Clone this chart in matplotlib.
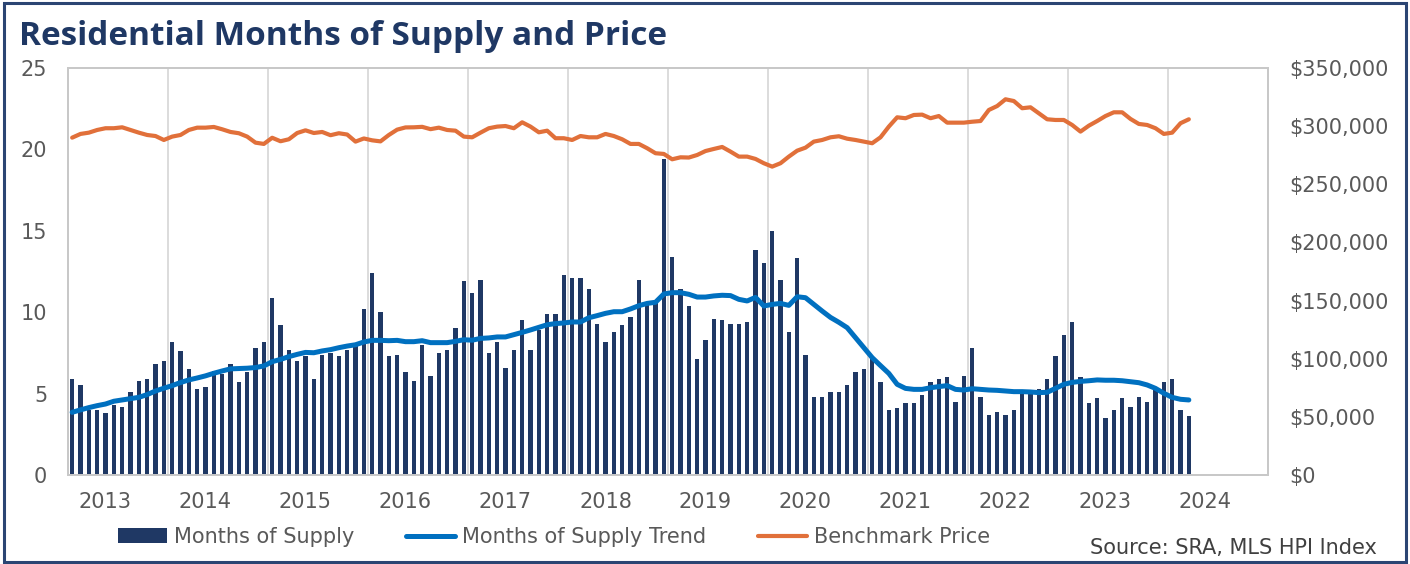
import matplotlib
matplotlib.use("Agg")
import matplotlib.pyplot as plt
from matplotlib.patches import Patch, Rectangle
from matplotlib.lines import Line2D
from matplotlib.ticker import FuncFormatter, FixedLocator

# ---------------- data (monthly, Sep 2012 .. Nov 2023) ----------------
months_of_supply = [
    5.9, 5.5, 4.0, 4.0, 3.8, 4.3, 4.2, 5.1, 5.8, 5.9, 6.8, 7.0,
    8.2, 7.6, 6.5, 5.3, 5.4, 6.4, 6.2, 6.8, 5.7, 6.3, 7.8, 8.2,
    10.9, 9.2, 7.7, 7.0, 7.3, 5.9, 7.4, 7.5, 7.3, 7.7, 8.1, 10.2,
    12.4, 10.0, 7.3, 7.4, 6.3, 5.8, 8.0, 6.1, 7.5, 7.7, 9.0, 11.9,
    11.2, 12.0, 7.5, 8.2, 6.6, 7.7, 9.5, 7.7, 8.9, 9.9, 9.9, 12.3,
    12.1, 12.1, 11.4, 9.3, 8.2, 8.8, 9.2, 9.7, 12.0, 10.6, 10.6, 19.4,
    13.4, 11.4, 10.4, 7.1, 8.3, 9.6, 9.5, 9.3, 9.3, 9.4, 13.8, 13.0,
    15.0, 12.0, 8.8, 13.3, 7.4, 4.8, 4.8, 5.1, 5.1, 5.5, 6.3, 6.5,
    7.1, 5.7, 4.0, 4.1, 4.4, 4.4, 4.9, 5.7, 5.9, 6.0, 4.5, 6.1,
    7.8, 4.8, 3.7, 3.9, 3.7, 4.0, 5.1, 5.0, 5.3, 5.9, 7.3, 8.6,
    9.4, 6.0, 4.4, 4.7, 3.5, 4.0, 4.7, 4.2, 4.8, 4.5, 5.3, 5.7,
    5.9, 4.0, 3.6,
]

supply_trend = [
    3.85, 4.00, 4.14, 4.26, 4.36, 4.53, 4.61, 4.69, 4.77, 4.94, 5.16, 5.33,
    5.49, 5.68, 5.84, 5.96, 6.09, 6.25, 6.39, 6.52, 6.54, 6.56, 6.60, 6.70,
    6.96, 7.10, 7.27, 7.41, 7.53, 7.51, 7.62, 7.70, 7.82, 7.92, 8.00, 8.17,
    8.27, 8.27, 8.25, 8.27, 8.19, 8.19, 8.25, 8.13, 8.13, 8.13, 8.21, 8.31,
    8.28, 8.39, 8.42, 8.48, 8.48, 8.62, 8.76, 8.91, 9.07, 9.23, 9.30, 9.34,
    9.40, 9.40, 9.66, 9.79, 9.93, 10.03, 10.03, 10.20, 10.40, 10.54, 10.61, 11.12,
    11.20, 11.20, 11.10, 10.93, 10.93, 11.00, 11.04, 11.02, 10.79, 10.69, 10.91, 10.38,
    10.48, 10.54, 10.42, 10.95, 10.89, 10.48, 10.07, 9.68, 9.38, 9.05, 8.44, 7.84,
    7.21, 6.72, 6.24, 5.57, 5.32, 5.26, 5.26, 5.36, 5.43, 5.49, 5.26, 5.22,
    5.30, 5.26, 5.22, 5.20, 5.16, 5.12, 5.12, 5.10, 5.06, 5.08, 5.32, 5.57,
    5.69, 5.75, 5.79, 5.84, 5.82, 5.82, 5.79, 5.73, 5.67, 5.53, 5.32, 5.02,
    4.77, 4.65, 4.61,
]

benchmark_price = [
    290100, 293300, 294400, 296700, 298200, 298200, 299000, 296700, 294400, 292400, 291500, 288100,
    291000, 292400, 296700, 298700, 298700, 299300, 297300, 295000, 293900, 291000, 285800, 284700,
    290000, 287000, 288700, 294100, 296400, 294100, 295000, 292200, 293900, 292800, 286700, 289400,
    287800, 286900, 292400, 297000, 298900, 299000, 299400, 297400, 298700, 296700, 296100, 291000,
    290400, 294400, 298200, 299600, 300100, 298200, 303300, 299600, 294700, 296100, 289600, 289600,
    288100, 291500, 290400, 290400, 293300, 291500, 288700, 284700, 284700, 281000, 276700, 276100,
    271500, 273200, 273000, 275200, 278600, 280400, 282100, 278100, 273800, 273800, 271800, 268100,
    265200, 268100, 273800, 278900, 281500, 286700, 288100, 290400, 291300, 289200, 288100, 286700,
    285300, 290400, 299600, 307600, 306800, 309600, 309900, 306800, 308700, 303000, 303000, 303000,
    303800, 304400, 313900, 317300, 323100, 321600, 315400, 316200, 311100, 305900, 305300, 305300,
    301000, 295300, 300400, 304400, 308700, 311900, 311900, 306200, 301900, 301000, 298200, 293300,
    294400, 302500, 305900,
]

year_labels = ["2013", "2014", "2015", "2016", "2017", "2018",
               "2019", "2020", "2021", "2022", "2023", "2024"]

title_text = "Residential Months of Supply and Price"
source_text = "Source: SRA, MLS HPI Index"
series_names = ["Months of Supply", "Months of Supply Trend", "Benchmark Price"]

# ---------------- style ----------------
NAVY = "#1F3864"
BLUE = "#0070C0"
ORANGE = "#E1703A"
GRID = "#D9D9D9"
TXT = "#595959"
FONT = "DejaVu Sans"

W, H = 1410, 564
fig = plt.figure(figsize=(W / 100, H / 100), dpi=100)

L, R, T, B = 68, 1268, 68, 475
ax = fig.add_axes([L / W, 1 - B / H, (R - L) / W, (B - T) / H])
ax2 = ax.twinx()

n = len(months_of_supply)
x = list(range(n))

ax.bar(x, months_of_supply, width=0.5, color=NAVY, zorder=2)
ax.plot(x, supply_trend, color=BLUE, lw=3.6, solid_capstyle="round",
        solid_joinstyle="round", zorder=3)
ax2.plot(x, benchmark_price, color=ORANGE, lw=3.0, solid_capstyle="round",
         solid_joinstyle="round", zorder=3)

ax.set_xlim(-0.5, 143.5)
ax.set_ylim(0, 25)
ax2.set_ylim(0, 350000)

ax.set_yticks([0, 5, 10, 15, 20, 25])
ax2.set_yticks(range(0, 350001, 50000))
ax2.yaxis.set_major_formatter(FuncFormatter(lambda v, p: "${:,.0f}".format(v)))

ax.set_xticks([4 + 12 * i for i in range(len(year_labels))])
ax.set_xticklabels(year_labels)
ax.xaxis.set_minor_locator(FixedLocator([-0.5 + 12 * i for i in range(13)]))
ax.grid(False)
ax.grid(True, which="minor", axis="x", color=GRID, lw=1.3, zorder=0)
ax.set_axisbelow(True)

ax.tick_params(axis="both", which="both", length=0)
ax.tick_params(axis="y", labelsize=15, labelcolor=TXT, pad=15)
ax.tick_params(axis="x", labelsize=15, labelcolor=TXT, pad=12)
ax2.tick_params(axis="y", length=0, labelsize=15, labelcolor=TXT, pad=15)
for lab in ax.get_xticklabels() + ax.get_yticklabels() + ax2.get_yticklabels():
    lab.set_fontfamily(FONT)

for a in (ax, ax2):
    for s in a.spines.values():
        s.set_color("#C8C8C8")
        s.set_linewidth(1.3)

# title
fig.text(19 / W, 1 - 45 / H, title_text, fontsize=24, fontweight="bold",
         color=NAVY, family="Open Sans", ha="left", va="baseline")

# legend
handles = [
    Patch(facecolor=NAVY, edgecolor="none"),
    Line2D([0], [0], color=BLUE, lw=3.6, solid_capstyle="round"),
    Line2D([0], [0], color=ORANGE, lw=3.0, solid_capstyle="round"),
]
leg = fig.legend(handles, series_names, loc="center left",
                 bbox_to_anchor=(118 / W, 1 - 537 / H), ncol=3, frameon=False,
                 borderpad=0, borderaxespad=0, handlelength=2.35,
                 handletextpad=0.33, columnspacing=2.5,
                 prop={"family": FONT, "size": 15})
for t in leg.get_texts():
    t.set_color(TXT)

fig.text(1377 / W, 1 - 548 / H, source_text, fontsize=15, family=FONT,
         color="#404040", ha="right", va="center")

# outer frame
fig.patches.append(Rectangle((3.5 / W, 2.5 / H), (1405.5 - 3.5) / W, (561.5 - 2.5) / H,
                             transform=fig.transFigure, fill=False,
                             edgecolor="#2B4573", lw=2.2, zorder=10))

fig.savefig("out.png", dpi=100)
